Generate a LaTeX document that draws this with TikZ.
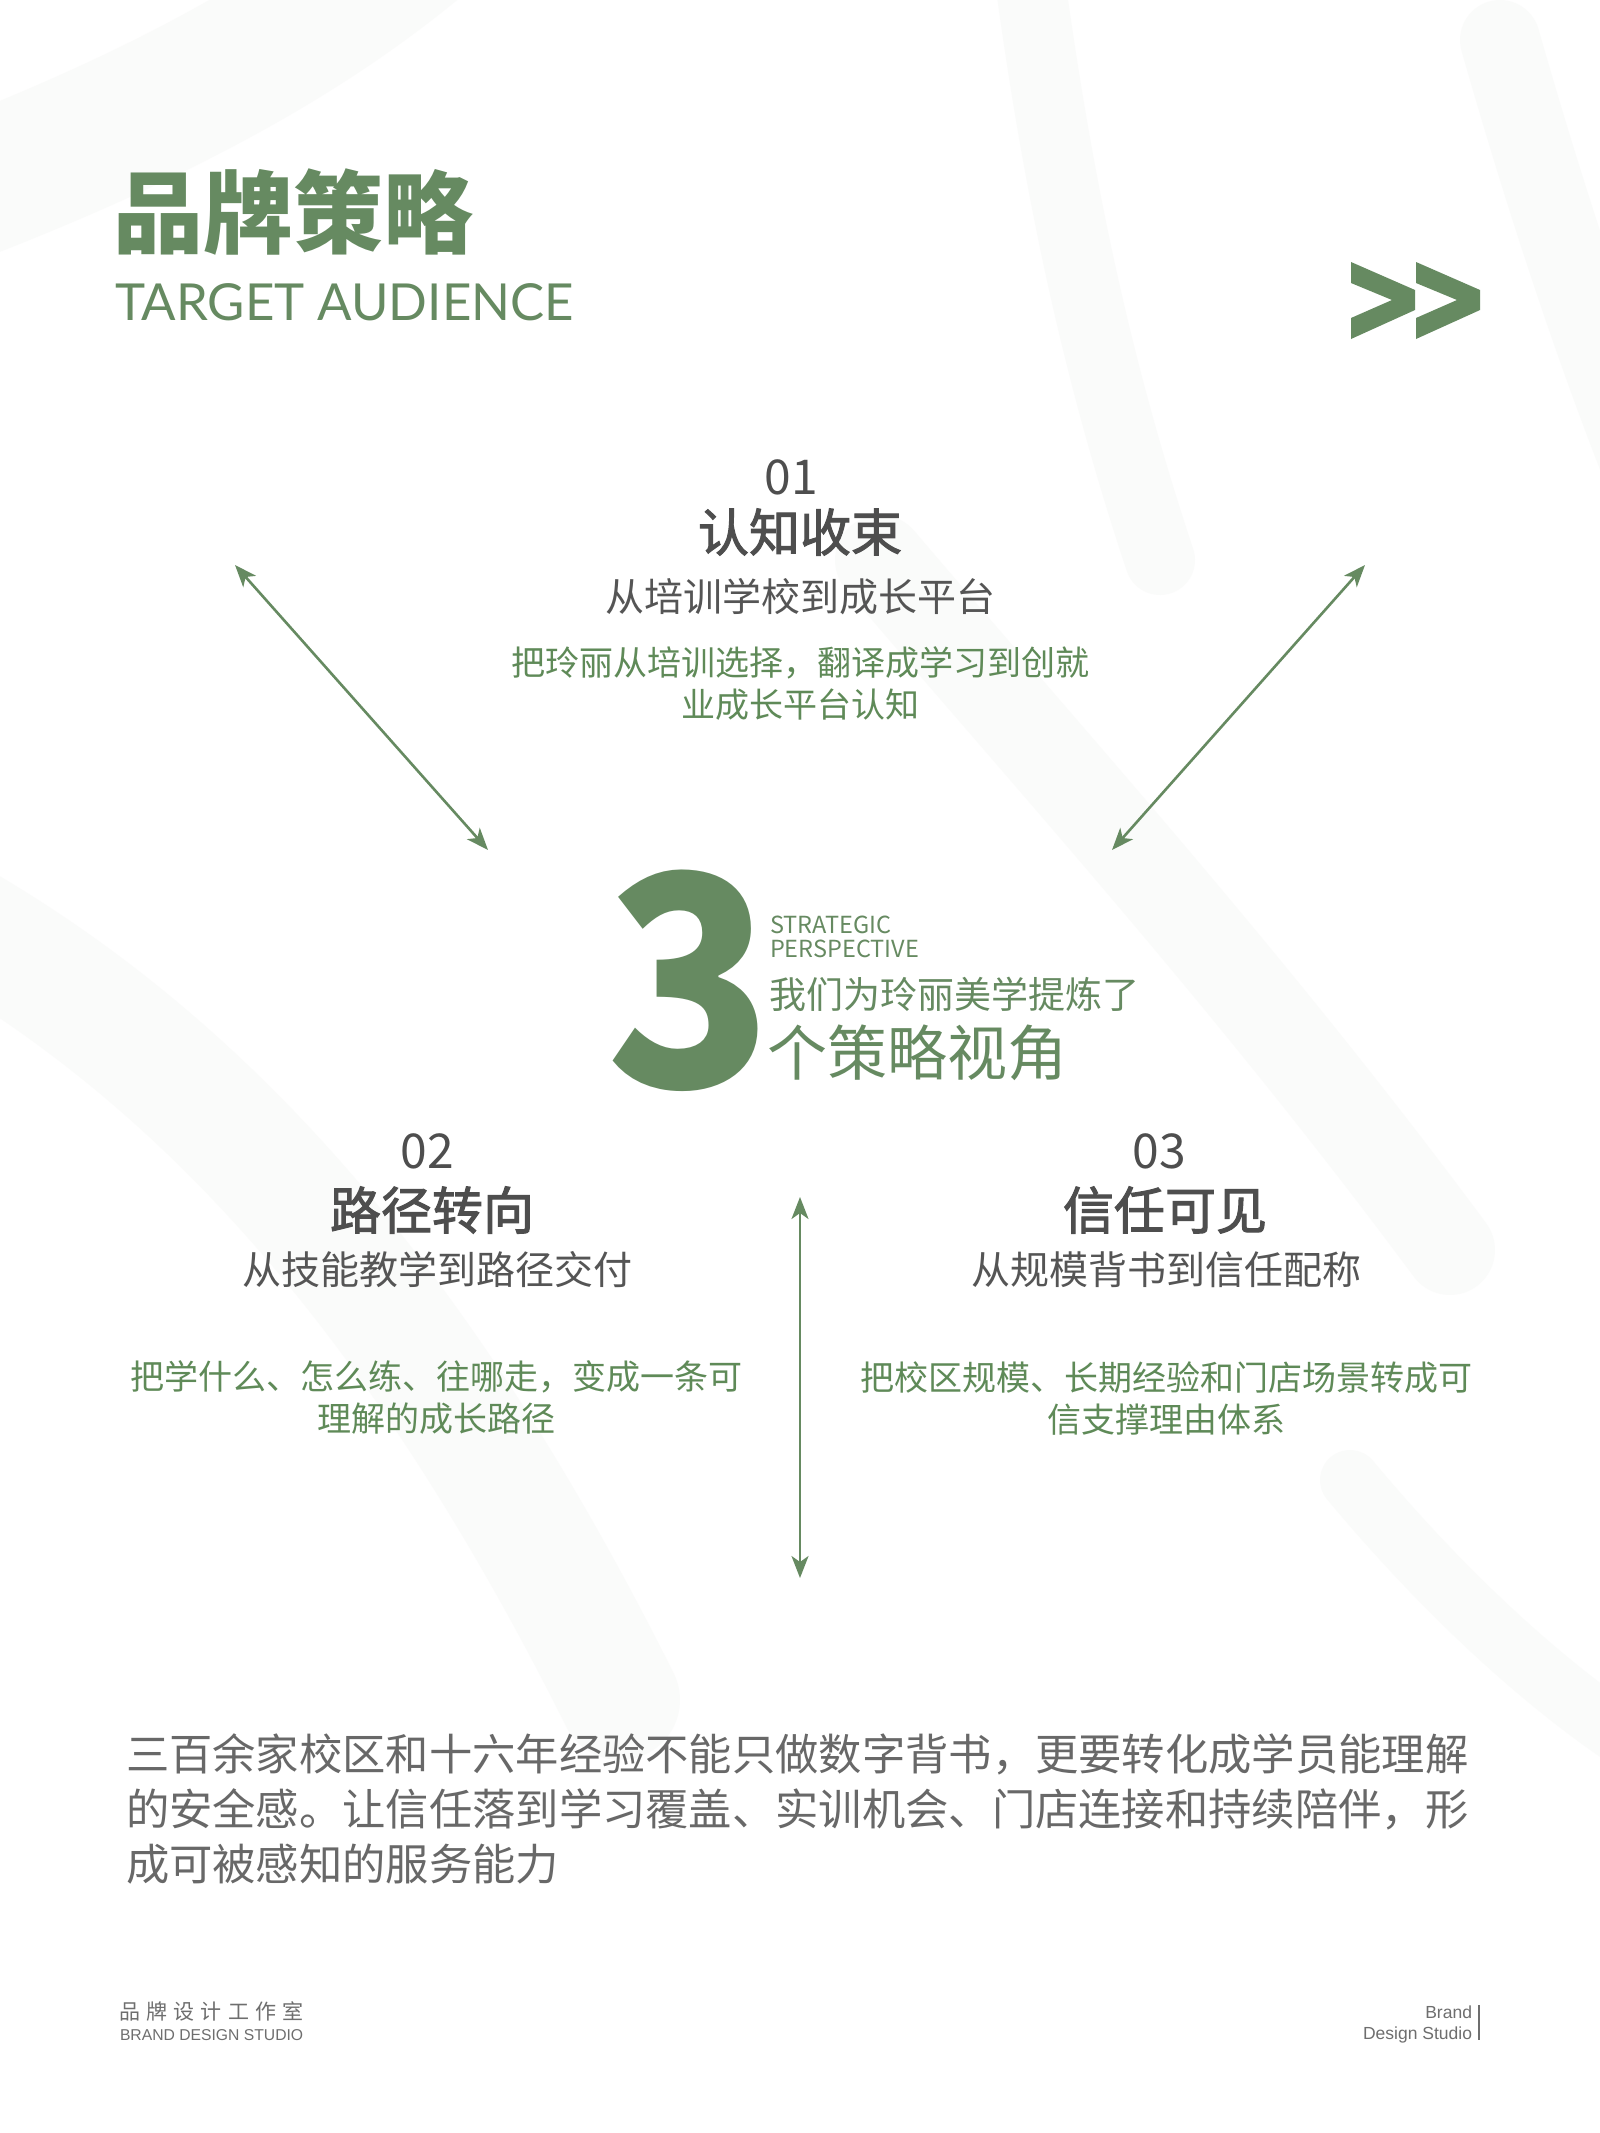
\documentclass[tikz,border=0pt]{standalone}
\usepackage{fontspec}
\setmainfont{Noto Sans CJK SC}
\newfontfamily\latofont{Lato}
\newfontfamily\helvfont{Liberation Sans}
\usetikzlibrary{arrows.meta}
\definecolor{brandgreen}{HTML}{668A61}
\definecolor{txtgreen}{HTML}{5F8A58}
\definecolor{headgray}{HTML}{4E4E4E}
\definecolor{subgray}{HTML}{555555}
\definecolor{bodygray}{HTML}{686868}
\definecolor{footgray}{HTML}{6E6E6E}
\definecolor{swirl}{HTML}{F1F2F0}
\newcommand\setfs[1]{\fontsize{#1}{#1}\selectfont}
\begin{document}
\begin{tikzpicture}[x=1pt,y=-1pt,
  every node/.style={inner sep=0pt,outer sep=0pt},
  numlbl/.style={text=headgray,font=\setfs{48},anchor=base},
  headlbl/.style={text=headgray,font=\setfs{51}\addfontfeature{FakeBold=2},anchor=center},
  sublbl/.style={text=subgray,font=\setfs{39},anchor=center},
  greenlbl/.style={text=txtgreen,font=\fontsize{34}{42}\selectfont,align=center,anchor=center},
  bodyline/.style={text=bodygray,font=\setfs{43.3},anchor=west},
  biarrow/.style={draw=brandgreen,line width=2.6pt,
    {Stealth[length=22pt,width=17pt,inset=6pt]}-{Stealth[length=22pt,width=17pt,inset=6pt]}},
  swirlband/.style={draw=swirl,line cap=round,opacity=0.3}
]
\useasboundingbox (0,0) rectangle (1600,2133);
\fill[white] (0,0) rectangle (1600,2133);

% faint background brush strokes
\draw[swirlband,line width=140pt] (-60,200) .. controls (150,120) and (300,40) .. (420,-60);
\draw[swirlband,line width=70pt] (1030,-20) .. controls (1060,200) and (1100,380) .. (1160,560);
\draw[swirlband,line width=90pt] (880,560) .. controls (1050,760) and (1250,980) .. (1450,1250);
\draw[swirlband,line width=120pt] (-80,900) .. controls (200,1050) and (420,1300) .. (620,1700);
\draw[swirlband,line width=60pt] (1350,1480) .. controls (1450,1600) and (1560,1700) .. (1660,1760);
\draw[swirlband,line width=80pt] (1500,40) .. controls (1560,250) and (1620,420) .. (1680,560);

% title
\node[anchor=west,text=brandgreen,font=\setfs{90}\bfseries] (title) at (113,212) {品牌策略};
\node[anchor=base west,text=brandgreen,font=\latofont\setfs{51}] (subtitle) at (115,320) {TARGET AUDIENCE};

% chevrons
\fill[brandgreen] (1351,262) -- (1415,290) -- (1415,310) -- (1351,339) -- (1351,318) -- (1392,300) -- (1351,283) -- cycle;
\fill[brandgreen] (1416,262) -- (1480,290) -- (1480,310) -- (1416,339) -- (1416,318) -- (1457,300) -- (1416,283) -- cycle;

% block 01
\node[numlbl] (n1) at (791,494) {01};
\node[headlbl] (h1) at (800,532) {认知收束};
\node[sublbl] (s1) at (800,597) {从培训学校到成长平台};
\node[greenlbl] (g1) at (800,684) {把玲丽从培训选择，翻译成学习到创就\\业成长平台认知};

% center 3
\node[anchor=base,text=brandgreen,font=\setfs{294}\bfseries] (three) at (690,1087) {\scalebox{0.93}[1]{3}};
\node[anchor=base west,text=brandgreen,font=\setfs{23.5}] (strat) at (770,933) {STRATEGIC};
\node[anchor=base west,text=brandgreen,font=\setfs{23.5}] (persp) at (770,957) {PERSPECTIVE};
\node[anchor=west,text=brandgreen,font=\setfs{37}] (we) at (769,994) {我们为玲丽美学提炼了};
\node[anchor=west,text=brandgreen,font=\setfs{60}] (views) at (767,1053) {个策略视角};

% block 02
\node[numlbl] (n2) at (427,1168) {02};
\node[headlbl] (h2) at (432,1210) {路径转向};
\node[sublbl] (s2) at (437,1270) {从技能教学到路径交付};
\node[greenlbl] (g2) at (436,1398) {把学什么、怎么练、往哪走，变成一条可\\理解的成长路径};

% block 03
\node[numlbl] (n3) at (1159,1168) {03};
\node[headlbl] (h3) at (1165,1210) {信任可见};
\node[sublbl] (s3) at (1166,1270) {从规模背书到信任配称};
\node[greenlbl] (g3) at (1166,1398) {把校区规模、长期经验和门店场景转成可\\信支撑理由体系};

% arrows
\coordinate (a1s) at (235,565);
\coordinate (a1e) at (488,850);
\coordinate (a2s) at (1365,565);
\coordinate (a2e) at (1112,850);
\coordinate (a3s) at (800,1197);
\coordinate (a3e) at (800,1578);
\draw[biarrow] (a1s) -- (a1e);
\draw[biarrow] (a2s) -- (a2e);
\draw[biarrow] (a3s) -- (a3e);

% bottom paragraph
\node[bodyline] (p1) at (126,1754) {三百余家校区和十六年经验不能只做数字背书，更要转化成学员能理解};
\node[bodyline] (p2) at (126,1809) {的安全感。让信任落到学习覆盖、实训机会、门店连接和持续陪伴，形};
\node[bodyline] (p3) at (126,1864) {成可被感知的服务能力};

% footer
\node[anchor=west,text=footgray,font=\setfs{21}\addfontfeature{LetterSpace=30}] (f1) at (119,2011) {品牌设计工作室};
\node[anchor=base west,text=footgray,font=\helvfont\setfs{15.7}] (f2) at (120,2040) {BRAND DESIGN STUDIO};
\node[anchor=base east,text=footgray,font=\helvfont\setfs{17.5}] (f3) at (1472,2018) {Brand};
\node[anchor=base east,text=footgray,font=\helvfont\setfs{17.5}] (f4) at (1472,2039) {Design Studio};
\coordinate (bar1) at (1479,2005);
\coordinate (bar2) at (1479,2040);
\draw[footgray,line width=1.3pt] (bar1) -- (bar2);
\end{tikzpicture}
\end{document}
